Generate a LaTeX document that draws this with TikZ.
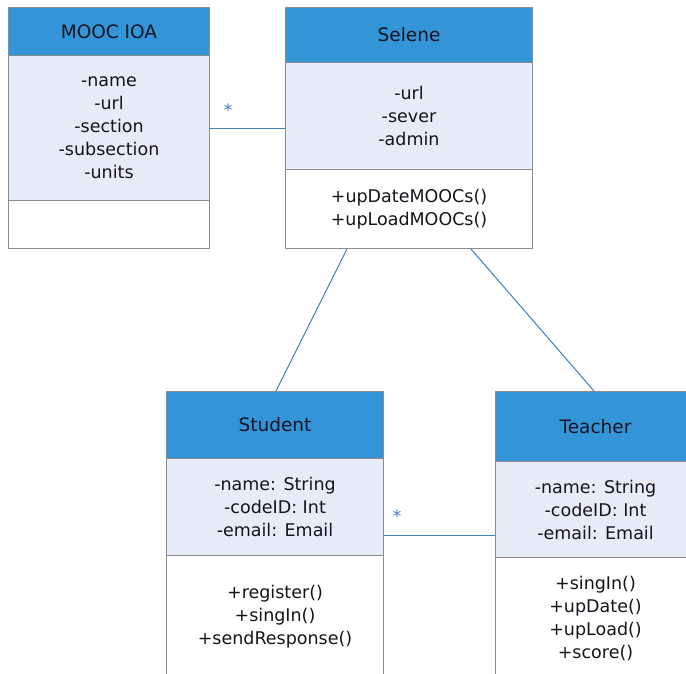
\documentclass[tikz,border=0pt]{standalone}
\usepackage{fontspec}
\setmainfont{DejaVu Sans}
\usetikzlibrary{calc}
\definecolor{hdr}{HTML}{3494D8}
\definecolor{attr}{HTML}{E6EDF8}
\definecolor{bord}{HTML}{8C8C8C}
\definecolor{conn}{HTML}{3F80BF}
\definecolor{txt}{HTML}{141420}
\tikzset{
  part/.style={draw=bord, line width=1pt, anchor=north west, inner sep=0pt, align=center,
    text=txt, font={\fontsize{17.5}{23}\selectfont}},
  hdrbox/.style={part, fill=hdr, font={\fontsize{18.5}{23}\selectfont}},
  attrbox/.style={part, fill=attr},
  methbox/.style={part, fill=white},
  assoc/.style={draw=conn, line width=1pt},
  mult/.style={text=conn, font={\fontsize{17}{17}\selectfont}, inner sep=0pt}
}
\begin{document}
\begin{tikzpicture}[x=1pt,y=-1pt]
\useasboundingbox (0,0) rectangle (686,674);
\clip (0,0) rectangle (686,674);
\fill[white] (0,0) rectangle (686,674);
% MOOC IOA
\node[hdrbox, minimum width=201pt, minimum height=48pt] (mh) at (8,7) {MOOC IOA};
\node[attrbox, minimum width=201pt, minimum height=145pt] (ma) at (8,55) {-name\\-url\\-section\\-subsection\\-units};
\node[methbox, minimum width=201pt, minimum height=48pt] (mm) at (8,200) {};
% Selene
\node[hdrbox, minimum width=247pt, minimum height=55pt] (sh) at (285,7) {Selene};
\node[attrbox, minimum width=247pt, minimum height=107pt] (sa) at (285,62) {-url\\-sever\\-admin};
\node[methbox, minimum width=247pt, minimum height=79pt] (sm) at (285,169) {+upDateMOOCs()\\+upLoadMOOCs()};
% Student
\node[hdrbox, minimum width=217pt, minimum height=67pt] (th) at (166,391) {Student};
\node[attrbox, minimum width=217pt, minimum height=97pt] (ta) at (166,458) {-name: String\\-codeID: Int\\-email: Email};
\node[methbox, minimum width=217pt, minimum height=123pt] (tm) at (166,555) {+register()\\+singIn()\\+sendResponse()};
% Teacher
\node[hdrbox, minimum width=200pt, minimum height=70pt] (eh) at (495,391) {Teacher};
\node[attrbox, minimum width=200pt, minimum height=96pt] (ea) at (495,461) {-name: String\\-codeID: Int\\-email: Email};
\node[methbox, minimum width=200pt, minimum height=123pt] (em) at (495,557) {+singIn()\\+upDate()\\+upLoad()\\+score()};
% connectors
\coordinate (c1) at ($(ma.south east)+(0,-72)$);
\draw[assoc] (c1) -- (c1 -| sa.west);
\node[mult] (s1) at (228,110) {*};
\coordinate (c2) at ($(sm.south west)+(62,0)$);
\coordinate (c3) at ($(th.north west)+(110,0)$);
\draw[assoc] (c2) -- (c3);
\coordinate (c4) at ($(sm.south west)+(186,0)$);
\coordinate (c5) at ($(eh.north west)+(99,0)$);
\draw[assoc] (c4) -- (c5);
\coordinate (c6) at ($(ta.south east)+(0,-21)$);
\draw[assoc] (c6) -- (c6 -| ea.west);
\node[mult] (s2) at (397,516) {*};
\end{tikzpicture}
\end{document}
